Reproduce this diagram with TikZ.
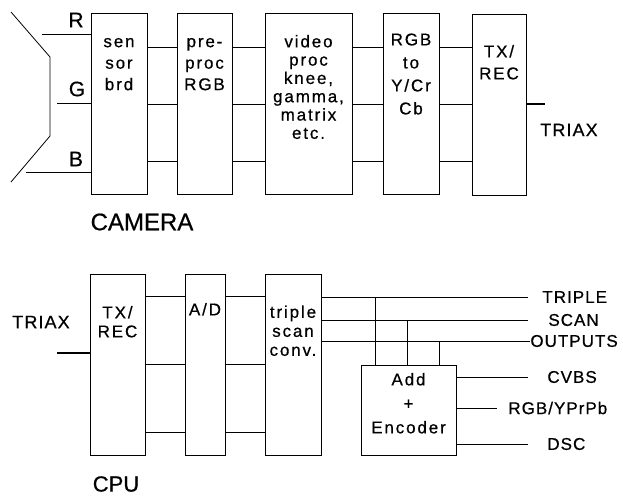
\documentclass[tikz,border=0pt]{standalone}
\usepackage{fontspec}
\setmainfont[FakeBold=0.6]{Liberation Sans}
\newfontfamily\spaced[LetterSpace=11,FakeBold=0.6]{Liberation Sans}
\newfontfamily\lblfont[LetterSpace=6,FakeBold=0.6]{Liberation Sans}

\begin{document}
\begin{tikzpicture}[x=1pt,y=-1pt,line width=.8pt,
  blk/.style={draw,inner sep=0pt,minimum height=181pt},
  txt/.style={align=center,inner sep=0pt,anchor=north,
    font=\spaced\fontsize{17}{#1}\selectfont},
  txt/.default=19,
  lbl/.style={inner sep=0pt,font=\lblfont\fontsize{17}{20}\selectfont},
  big/.style={inner sep=0pt,font=\fontsize{#1}{#1}\selectfont},
  coax/.style={line width=1.8pt}]
  \useasboundingbox (0,0) rectangle (623,495);

  % camera head
  \draw (11,12) -- (50,57) -- (50,136) -- (11,182);
  \node[big=21] (r) at (76,20) {R};
  \node[big=21] (g) at (77,89) {G};
  \node[big=21] (b) at (76,159) {B};
  \coordinate (rin) at (42,34);
  \coordinate (gin) at (57,103);
  \coordinate (bin) at (26,172);

  \node[blk,minimum width=56pt] (sensor) at (119,103.5) {};
  \node[blk,minimum width=55pt] (preproc) at (204.5,103.5) {};
  \node[blk,minimum width=87pt] (video) at (308.5,103.5) {};
  \node[blk,minimum width=56pt] (rgb) at (411,104) {};
  \node[blk,minimum width=54pt] (txcam) at (499,104.5) {};

  \node[txt=21.5] (sensortxt) at ([yshift=-25pt]sensor.north) {sen\\sor\\brd};
  \node[txt=21.5] (preproctxt) at ([yshift=-25pt]preproc.north) {pre-\\proc\\RGB};
  \node[txt=18.3] (videotxt) at ([yshift=-22pt]video.north)
    {video\\proc\\knee,\\gamma,\\matrix\\etc.};
  \node[txt=23] (rgbtxt) at ([yshift=-20pt]rgb.north) {RGB\\to\\Y/Cr\\Cb};
  \node[txt=22] (txcamtxt) at ([yshift=-31pt]txcam.north) {TX/\\REC};

  \draw (rin) -- (sensor.west |- rin);
  \draw (gin) -- (sensor.west |- gin);
  \draw (bin) -- (sensor.west |- bin);
  \foreach \a/\b in {sensor/preproc,preproc/video,video/rgb,rgb/txcam}
    \foreach \y in {47,104,161}
      \draw (\a.east |- 0,\y) -- (\b.west |- 0,\y);

  \coordinate (triaxout) at (545,104);
  \draw[coax] (txcam.east |- triaxout) -- (triaxout);
  \node[lbl,font=\lblfont\fontsize{18}{20}\selectfont] (triaxcam) at (569,130) {TRIAX};
  \node[big=24] (camera) at (142,222) {CAMERA};

  % control unit
  \node[blk,minimum width=55pt] (txcpu) at (117.5,364.5) {};
  \node[blk,minimum width=40pt] (ad) at (205,364.5) {};
  \node[blk,minimum width=56pt] (conv) at (293,365) {};
  \node[draw,inner sep=0pt,minimum width=95pt,minimum height=90pt] (enc) at (408.5,410) {};

  \node[txt] (txcputxt) at ([yshift=-32pt]txcpu.north) {TX/\\REC};
  \node[txt] (adtxt) at ([yshift=-29pt]ad.north) {A/D};
  \node[txt] (convtxt) at ([yshift=-31pt]conv.north) {triple\\scan\\conv.};
  \node[txt=24] (enctxt) at ([yshift=-8pt]enc.north) {Add\\+\\Encoder};

  \coordinate (triaxin) at (57,353);
  \draw[coax] (triaxin) -- (txcpu.west |- triaxin);
  \node[lbl,font=\lblfont\fontsize{18}{20}\selectfont] (triaxcpu) at (41,322) {TRIAX};
  \foreach \a/\b in {txcpu/ad,ad/conv}
    \foreach \y in {296,364,432}
      \draw (\a.east |- 0,\y) -- (\b.west |- 0,\y);

  \node[lbl,anchor=west] (trip) at (542,297) {TRIPLE};
  \node[lbl,anchor=west] (scan) at (548,320) {SCAN};
  \node[lbl,anchor=west] (outs) at (530,341) {OUTPUTS};
  \node[lbl,anchor=west] (cvbs) at (547,377) {CVBS};
  \node[lbl,anchor=west] (yprpb) at (508,408) {RGB/YPrPb};
  \node[lbl,anchor=west] (dsc) at (547,444) {DSC};

  \draw (conv.east |- trip.west) -- ([xshift=-14pt]trip.west);
  \draw (conv.east |- scan.west) -- ([xshift=-20pt]scan.west);
  \draw (conv.east |- outs.west) -- (outs.west);
  \foreach \dx/\o in {15/trip,47/scan,79/outs}{
    \coordinate (tap) at ([xshift=\dx pt]enc.north west);
    \draw (tap) -- (tap |- \o.west);
  }
  \draw (enc.east |- cvbs.west) -- ([xshift=-19pt]cvbs.west);
  \draw (enc.east |- yprpb.west) -- ([xshift=-11pt]yprpb.west);
  \draw (enc.east |- dsc.west) -- ([xshift=-19pt]dsc.west);

  \node[big=22] (cpu) at (116,484) {CPU};
\end{tikzpicture}
\end{document}
